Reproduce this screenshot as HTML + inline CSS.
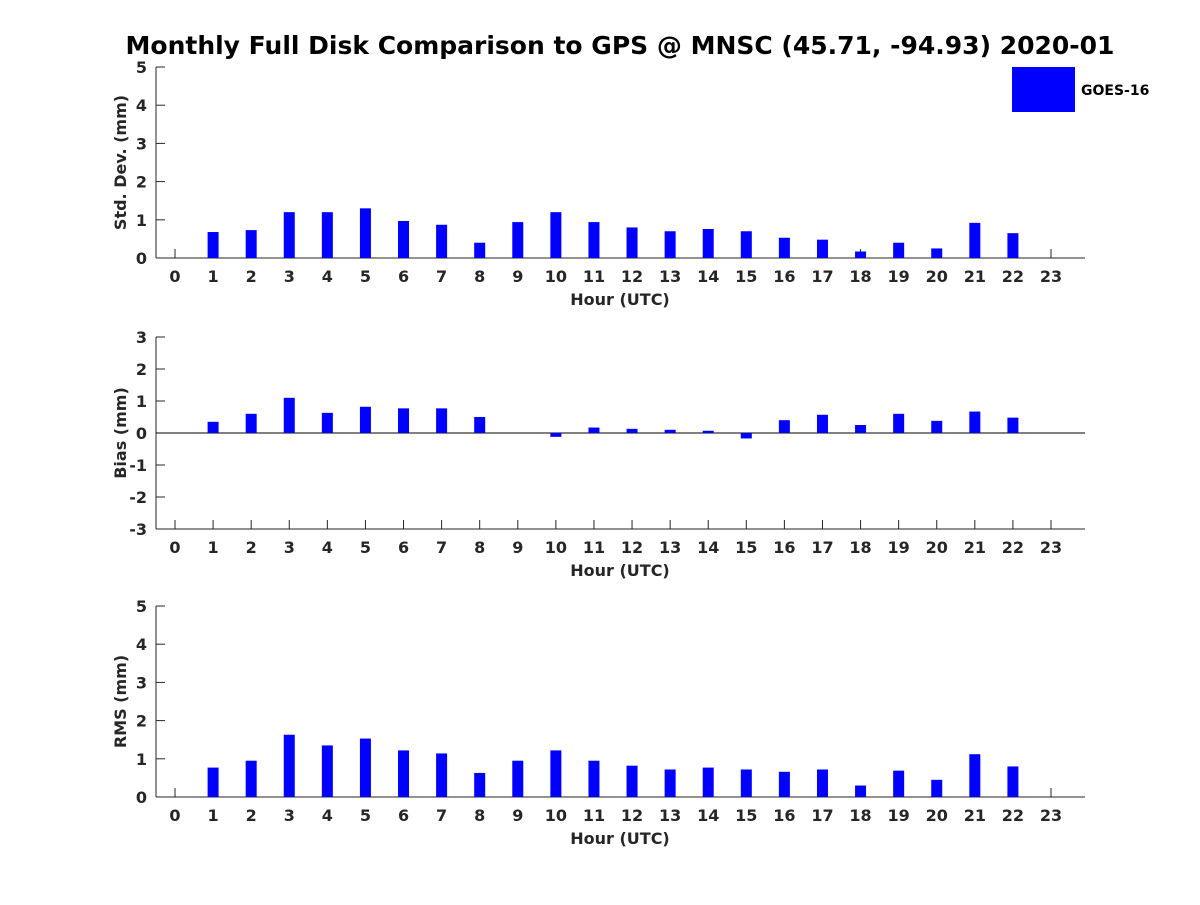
<!DOCTYPE html>
<html><head><meta charset="utf-8"><style>
body{margin:0;background:#fff;}
text{font-family:"DejaVu Sans","Liberation Sans",sans-serif;font-weight:bold;fill:#262626;}
</style></head><body>
<svg id="chart" width="1200" height="900" xmlns="http://www.w3.org/2000/svg">
<rect width="1200" height="900" fill="#fff"/>
<text x="620" y="54" text-anchor="middle" font-size="25" style="fill:#000">Monthly Full Disk Comparison to GPS @ MNSC (45.71, -94.93) 2020-01</text>
<rect x="1012" y="67" width="63" height="45" fill="#0000ff"/>
<text x="1081" y="95" font-size="14" style="fill:#000">GOES-16</text>
</svg>
<script>
const hours = [0,1,2,3,4,5,6,7,8,9,10,11,12,13,14,15,16,17,18,19,20,21,22,23];
const stdValues = [null,0.68,0.73,1.2,1.2,1.3,0.97,0.87,0.4,0.94,1.2,0.94,0.8,0.7,0.76,0.7,0.53,0.48,0.17,0.4,0.25,0.92,0.65,null];
const biasValues = [null,0.35,0.6,1.1,0.63,0.82,0.77,0.77,0.5,0,-0.12,0.17,0.13,0.1,0.07,-0.17,0.4,0.57,0.25,0.6,0.38,0.67,0.48,null];
const rmsValues = [null,0.77,0.95,1.63,1.35,1.53,1.22,1.14,0.63,0.95,1.22,0.95,0.82,0.72,0.77,0.72,0.66,0.72,0.3,0.69,0.45,1.12,0.8,null];
const stdTicks = [0,1,2,3,4,5];
const biasTicks = [-3,-2,-1,0,1,2,3];
const rmsTicks = [0,1,2,3,4,5];

const svg = document.getElementById('chart');
const NS = 'http://www.w3.org/2000/svg';
function mk(tag, attrs){const e=document.createElementNS(NS,tag);for(const k in attrs)e.setAttribute(k,attrs[k]);svg.appendChild(e);return e;}
const xL=156,xR=1085;
function xScale(h){return 175+h*(1051-175)/23;}

function panel(name, top, bottom, yMin, yMax, ticks, values, ylabel){
  const y = v => bottom - (v-yMin)/(yMax-yMin)*(bottom-top);
  const ax = mk('line',{x1:xL,y1:top,x2:xL,y2:bottom,stroke:'#262626','stroke-width':1});
  
  
  const bx = mk('line',{x1:xL,y1:bottom,x2:xR,y2:bottom,stroke:'#262626','stroke-width':1});
  
  
  ticks.forEach(t=>{
    mk('line',{x1:xL,y1:y(t),x2:xL+9,y2:y(t),stroke:'#262626'});
    const tx = mk('text',{x:xL-9,y:y(t)+6,'text-anchor':'end','font-size':16});
    tx.textContent = t;
    
    
  });
  const base = (yMin<0)? y(0) : bottom;
  if(yMin<0){ mk('line',{x1:xL,y1:base,x2:xR,y2:base,stroke:'#000'}); }
  hours.forEach((h,i)=>{
    const xc = xScale(h);
    mk('line',{x1:xc,y1:bottom,x2:xc,y2:bottom-9,stroke:'#262626'});
    const tx = mk('text',{x:xc,y:bottom+24,'text-anchor':'middle','font-size':16});
    tx.textContent = h;
    
    
    const v = values[i];
    if(v!==null && v!==0){
      const y1 = y(v);
      const r = mk('rect',{x:xc-5.5,y:Math.min(y1,base),width:11,height:Math.abs(base-y1),fill:'#0000ff'});
      
      
    }
  });
  const xl = mk('text',{x:620,y:bottom+47,'text-anchor':'middle','font-size':16});
  xl.textContent='Hour (UTC)';
  
  
  const yc=(top+bottom)/2;
  const yl = mk('text',{x:126,y:yc,'text-anchor':'middle','font-size':16,transform:'rotate(-90 126 '+yc+')'});
  yl.textContent=ylabel;
  
  
}
panel('std-dev',67,258,0,5,stdTicks,stdValues,'Std. Dev. (mm)');
panel('bias',337,529,-3,3,biasTicks,biasValues,'Bias (mm)');
panel('rms',606,797,0,5,rmsTicks,rmsValues,'RMS (mm)');
</script>
</body></html>
